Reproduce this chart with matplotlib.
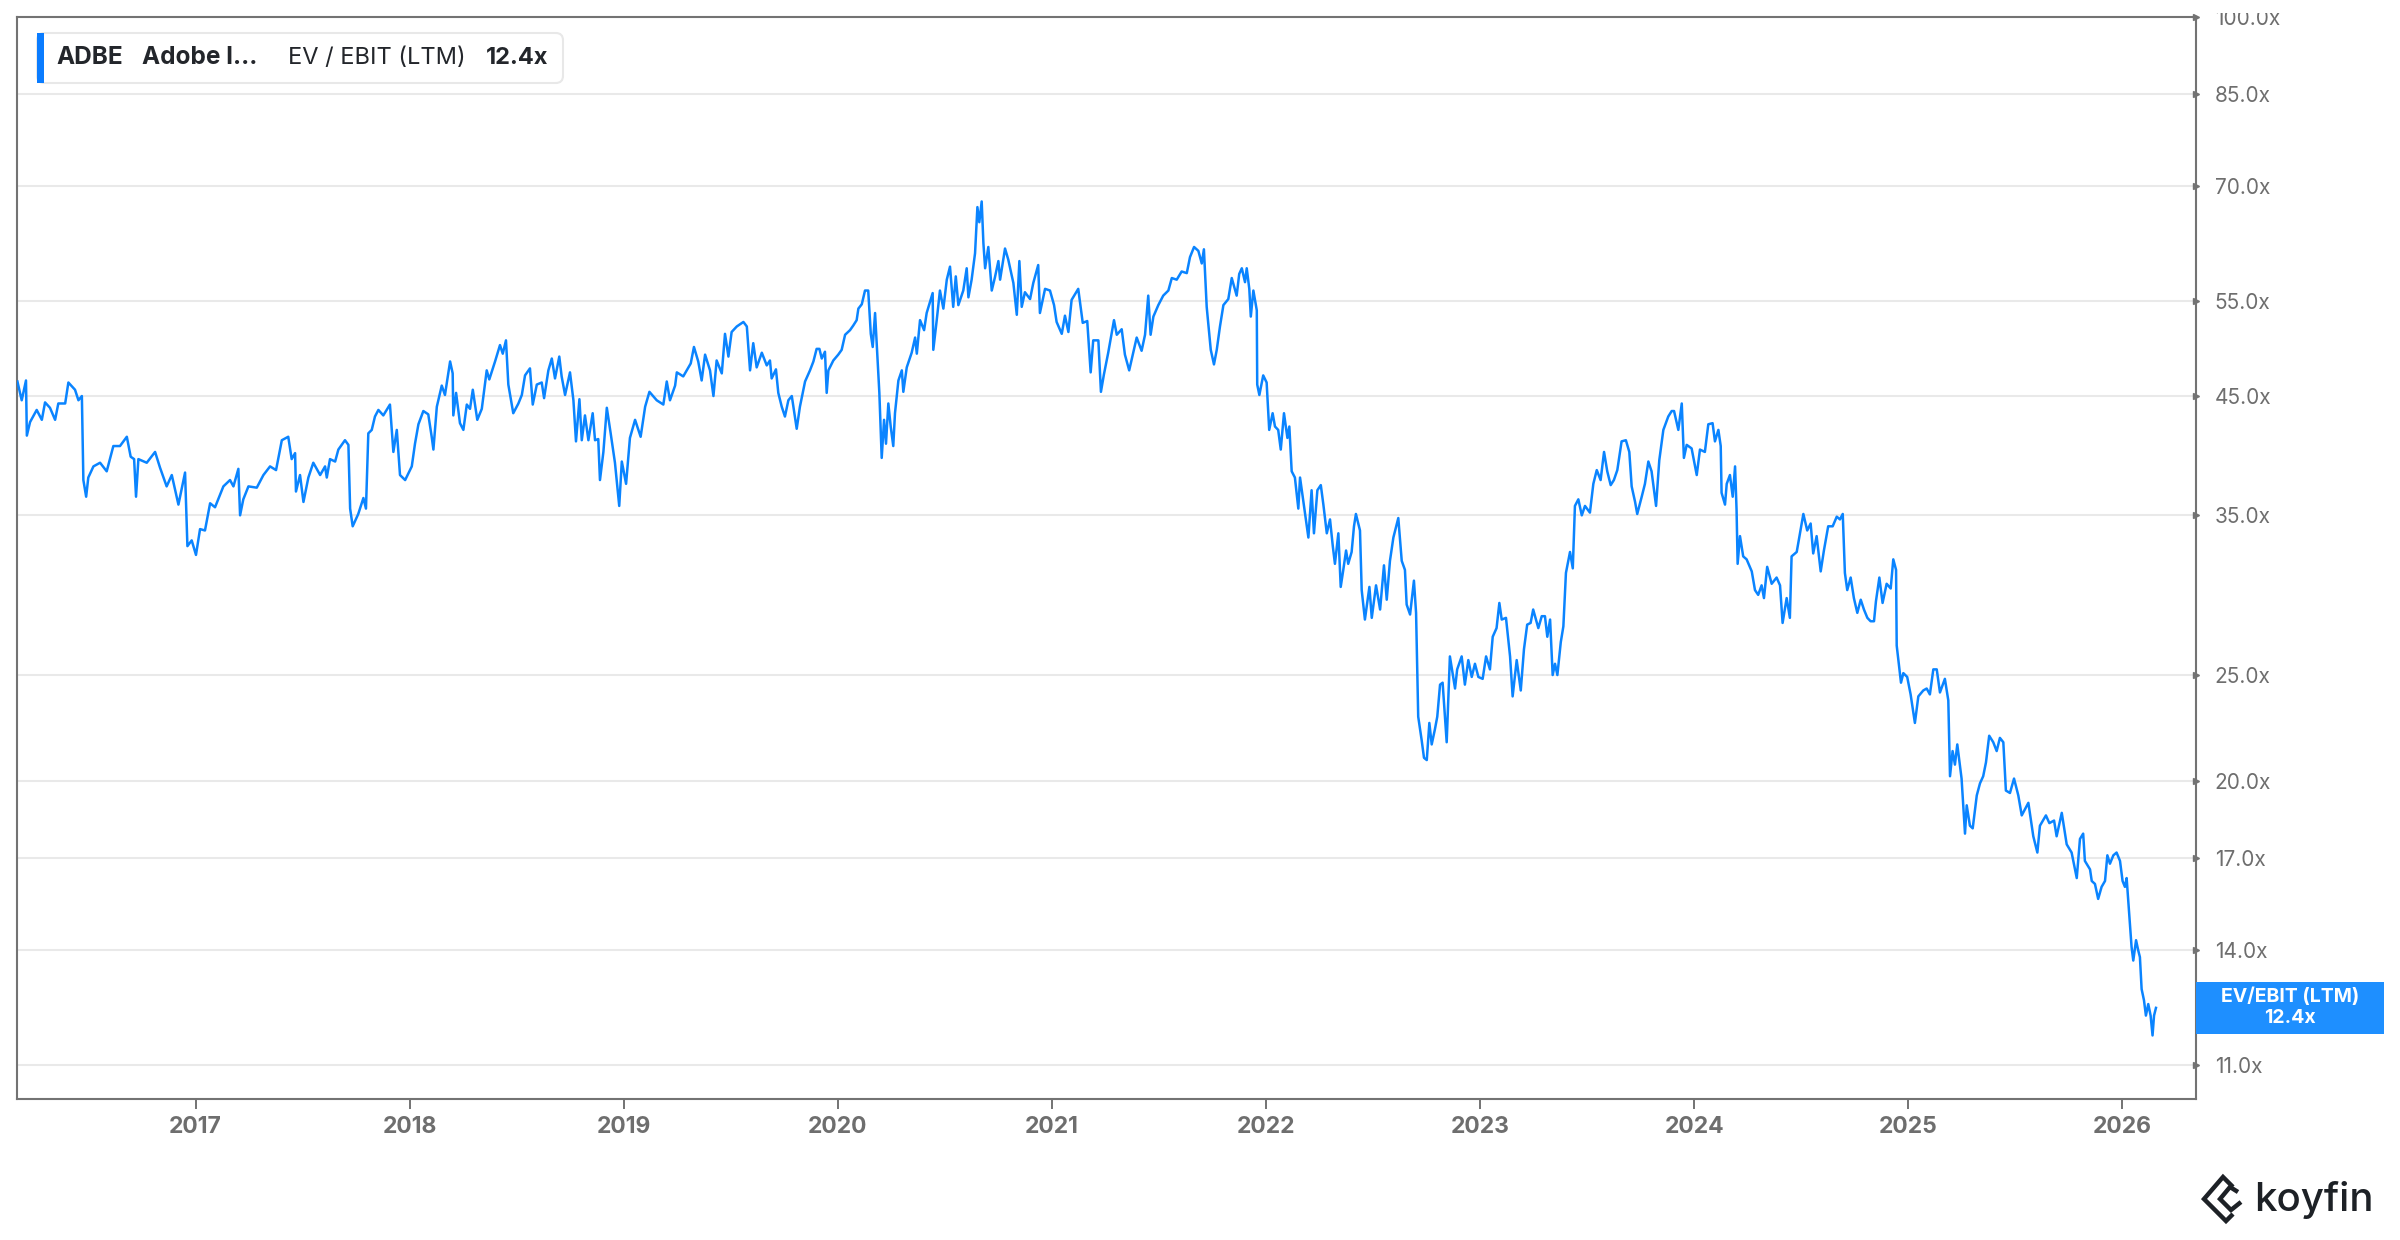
import matplotlib
matplotlib.use("Agg")
import matplotlib.pyplot as plt
from matplotlib.patches import FancyBboxPatch, Rectangle
from matplotlib.lines import Line2D
from matplotlib.ticker import FixedLocator, NullLocator
from matplotlib.transforms import Bbox, TransformedBbox

plt.rcParams['font.family'] = ['Inter', 'DejaVu Sans']

# ADBE EV / EBIT (LTM), time in decimal years
years = [
    2016.168, 2016.188, 2016.208, 2016.212, 2016.227, 2016.258, 2016.282, 2016.297, 2016.320, 2016.344,
    2016.359, 2016.391, 2016.406, 2016.437, 2016.453, 2016.469, 2016.476, 2016.489, 2016.499, 2016.523,
    2016.554, 2016.585, 2016.616, 2016.647, 2016.679, 2016.697, 2016.713, 2016.722, 2016.733, 2016.772,
    2016.811, 2016.834, 2016.865, 2016.889, 2016.920, 2016.951, 2016.962, 2016.982, 2017.002, 2017.021,
    2017.044, 2017.068, 2017.091, 2017.130, 2017.161, 2017.177, 2017.200, 2017.208, 2017.223, 2017.247,
    2017.286, 2017.317, 2017.348, 2017.376, 2017.403, 2017.433, 2017.449, 2017.465, 2017.469, 2017.488,
    2017.504, 2017.527, 2017.550, 2017.582, 2017.605, 2017.613, 2017.628, 2017.652, 2017.667, 2017.698,
    2017.714, 2017.722, 2017.734, 2017.760, 2017.784, 2017.796, 2017.807, 2017.823, 2017.838, 2017.854,
    2017.877, 2017.908, 2017.924, 2017.940, 2017.955, 2017.979, 2018.010, 2018.025, 2018.041, 2018.064,
    2018.087, 2018.103, 2018.111, 2018.127, 2018.150, 2018.165, 2018.189, 2018.201, 2018.204, 2018.217,
    2018.235, 2018.251, 2018.267, 2018.282, 2018.295, 2018.316, 2018.337, 2018.360, 2018.372, 2018.399,
    2018.422, 2018.435, 2018.450, 2018.461, 2018.484, 2018.508, 2018.524, 2018.539, 2018.562, 2018.575,
    2018.594, 2018.617, 2018.628, 2018.648, 2018.664, 2018.679, 2018.699, 2018.710, 2018.726, 2018.749,
    2018.765, 2018.777, 2018.793, 2018.804, 2018.819, 2018.835, 2018.855, 2018.866, 2018.881, 2018.889,
    2018.905, 2018.921, 2018.939, 2018.959, 2018.979, 2018.991, 2019.011, 2019.029, 2019.053, 2019.079,
    2019.100, 2019.120, 2019.154, 2019.185, 2019.201, 2019.216, 2019.240, 2019.248, 2019.278, 2019.313,
    2019.328, 2019.348, 2019.364, 2019.380, 2019.403, 2019.419, 2019.434, 2019.458, 2019.473, 2019.489,
    2019.504, 2019.528, 2019.559, 2019.575, 2019.590, 2019.605, 2019.621, 2019.645, 2019.668, 2019.683,
    2019.691, 2019.711, 2019.722, 2019.738, 2019.753, 2019.769, 2019.785, 2019.808, 2019.823, 2019.847,
    2019.870, 2019.886, 2019.901, 2019.914, 2019.925, 2019.940, 2019.948, 2019.956, 2019.979, 2020.002,
    2020.018, 2020.034, 2020.057, 2020.072, 2020.088, 2020.096, 2020.112, 2020.127, 2020.142, 2020.154,
    2020.163, 2020.174, 2020.184, 2020.194, 2020.205, 2020.216, 2020.225, 2020.236, 2020.247, 2020.259,
    2020.267, 2020.283, 2020.299, 2020.306, 2020.322, 2020.345, 2020.361, 2020.369, 2020.384, 2020.403,
    2020.415, 2020.443, 2020.446, 2020.462, 2020.477, 2020.493, 2020.509, 2020.524, 2020.539, 2020.551,
    2020.563, 2020.586, 2020.602, 2020.610, 2020.625, 2020.641, 2020.652, 2020.661, 2020.672, 2020.680,
    2020.688, 2020.703, 2020.719, 2020.734, 2020.750, 2020.758, 2020.781, 2020.796, 2020.820, 2020.836,
    2020.848, 2020.859, 2020.874, 2020.898, 2020.913, 2020.936, 2020.944, 2020.968, 2020.991, 2021.010,
    2021.022, 2021.046, 2021.061, 2021.077, 2021.092, 2021.123, 2021.144, 2021.165, 2021.181, 2021.193,
    2021.217, 2021.229, 2021.243, 2021.263, 2021.290, 2021.303, 2021.326, 2021.341, 2021.361, 2021.380,
    2021.396, 2021.419, 2021.435, 2021.450, 2021.461, 2021.474, 2021.497, 2021.520, 2021.544, 2021.560,
    2021.583, 2021.606, 2021.630, 2021.645, 2021.664, 2021.684, 2021.700, 2021.710, 2021.723, 2021.742,
    2021.757, 2021.770, 2021.785, 2021.801, 2021.824, 2021.840, 2021.863, 2021.875, 2021.887, 2021.902,
    2021.910, 2021.922, 2021.929, 2021.941, 2021.957, 2021.959, 2021.969, 2021.987, 2022.003, 2022.015,
    2022.031, 2022.042, 2022.057, 2022.069, 2022.084, 2022.100, 2022.109, 2022.120, 2022.135, 2022.151,
    2022.159, 2022.182, 2022.198, 2022.213, 2022.224, 2022.240, 2022.256, 2022.268, 2022.284, 2022.299,
    2022.312, 2022.322, 2022.338, 2022.349, 2022.361, 2022.374, 2022.384, 2022.400, 2022.411, 2022.420,
    2022.439, 2022.447, 2022.462, 2022.483, 2022.494, 2022.514, 2022.533, 2022.551, 2022.564, 2022.579,
    2022.595, 2022.618, 2022.634, 2022.649, 2022.657, 2022.673, 2022.691, 2022.701, 2022.711, 2022.727,
    2022.738, 2022.751, 2022.763, 2022.774, 2022.789, 2022.800, 2022.813, 2022.825, 2022.844, 2022.859,
    2022.883, 2022.893, 2022.914, 2022.929, 2022.945, 2022.961, 2022.976, 2022.992, 2023.012, 2023.028,
    2023.046, 2023.059, 2023.077, 2023.090, 2023.101, 2023.121, 2023.140, 2023.152, 2023.171, 2023.190,
    2023.205, 2023.220, 2023.236, 2023.248, 2023.272, 2023.288, 2023.303, 2023.314, 2023.327, 2023.339,
    2023.350, 2023.361, 2023.377, 2023.389, 2023.401, 2023.420, 2023.433, 2023.443, 2023.459, 2023.475,
    2023.490, 2023.513, 2023.529, 2023.545, 2023.563, 2023.579, 2023.594, 2023.610, 2023.625, 2023.641,
    2023.661, 2023.681, 2023.697, 2023.708, 2023.724, 2023.734, 2023.755, 2023.770, 2023.786, 2023.801,
    2023.822, 2023.837, 2023.856, 2023.879, 2023.895, 2023.906, 2023.926, 2023.942, 2023.952, 2023.965,
    2023.988, 2024.012, 2024.027, 2024.050, 2024.066, 2024.086, 2024.097, 2024.113, 2024.124, 2024.128,
    2024.144, 2024.152, 2024.167, 2024.180, 2024.191, 2024.198, 2024.203, 2024.214, 2024.229, 2024.245,
    2024.269, 2024.284, 2024.299, 2024.315, 2024.326, 2024.341, 2024.362, 2024.385, 2024.401, 2024.413,
    2024.432, 2024.447, 2024.455, 2024.479, 2024.494, 2024.510, 2024.528, 2024.544, 2024.556, 2024.572,
    2024.591, 2024.606, 2024.626, 2024.647, 2024.666, 2024.681, 2024.694, 2024.704, 2024.715, 2024.731,
    2024.746, 2024.762, 2024.778, 2024.793, 2024.809, 2024.824, 2024.840, 2024.849, 2024.865, 2024.880,
    2024.899, 2024.918, 2024.930, 2024.943, 2024.946, 2024.966, 2024.977, 2024.995, 2025.011, 2025.031,
    2025.047, 2025.070, 2025.086, 2025.101, 2025.117, 2025.133, 2025.148, 2025.171, 2025.187, 2025.195,
    2025.207, 2025.218, 2025.229, 2025.249, 2025.265, 2025.273, 2025.288, 2025.301, 2025.320, 2025.335,
    2025.350, 2025.363, 2025.378, 2025.397, 2025.413, 2025.428, 2025.444, 2025.456, 2025.475, 2025.494,
    2025.514, 2025.530, 2025.561, 2025.584, 2025.603, 2025.615, 2025.643, 2025.659, 2025.681, 2025.693,
    2025.717, 2025.740, 2025.763, 2025.787, 2025.802, 2025.817, 2025.825, 2025.849, 2025.857, 2025.872,
    2025.887, 2025.903, 2025.919, 2025.930, 2025.942, 2025.958, 2025.973, 2025.989, 2026.001, 2026.012,
    2026.020, 2026.028, 2026.036, 2026.043, 2026.051, 2026.064, 2026.074, 2026.082, 2026.090, 2026.101,
    2026.110, 2026.121, 2026.132, 2026.141, 2026.148, 2026.157,
]

ev_ebit = [
    46.4, 44.6, 46.5, 41.4, 42.6, 43.7, 42.8, 44.4, 43.9, 42.8,
    44.3, 44.3, 46.3, 45.6, 44.6, 45.0, 37.7, 36.4, 37.9, 38.8,
    39.1, 38.4, 40.5, 40.5, 41.3, 39.6, 39.4, 36.4, 39.4, 39.1,
    40.0, 38.7, 37.2, 38.1, 35.8, 38.3, 32.8, 33.2, 32.2, 34.0,
    33.9, 35.9, 35.6, 37.2, 37.7, 37.2, 38.6, 35.0, 36.2, 37.2,
    37.1, 38.1, 38.8, 38.5, 41.0, 41.3, 39.4, 39.9, 36.8, 38.1,
    36.0, 37.9, 39.1, 38.1, 38.8, 37.9, 39.4, 39.2, 40.2, 41.0,
    40.6, 35.5, 34.2, 35.1, 36.3, 35.5, 41.6, 41.9, 43.1, 43.7,
    43.2, 44.2, 40.0, 41.9, 38.1, 37.7, 38.8, 40.7, 42.4, 43.6,
    43.3, 41.3, 40.2, 44.0, 46.0, 45.1, 48.4, 47.2, 43.2, 45.3,
    42.5, 41.9, 44.2, 43.8, 45.6, 42.8, 43.8, 47.5, 46.6, 48.4,
    50.1, 49.2, 50.6, 46.1, 43.4, 44.3, 45.1, 47.0, 47.7, 44.2,
    46.1, 46.3, 44.8, 47.5, 48.7, 46.7, 48.9, 46.9, 45.1, 47.3,
    44.6, 40.9, 44.7, 41.0, 43.2, 41.0, 43.4, 41.0, 41.1, 37.7,
    40.0, 43.9, 41.6, 39.1, 35.7, 39.2, 37.4, 41.2, 42.8, 41.3,
    44.0, 45.4, 44.6, 44.2, 46.4, 44.6, 46.0, 47.3, 46.9, 48.2,
    49.9, 48.4, 46.5, 49.1, 47.5, 45.0, 48.5, 47.2, 51.3, 48.9,
    51.5, 52.1, 52.6, 52.1, 47.5, 50.3, 47.8, 49.3, 48.0, 48.5,
    46.7, 47.6, 45.3, 44.0, 43.1, 44.6, 45.0, 42.0, 44.0, 46.4,
    47.5, 48.4, 49.7, 49.7, 48.7, 49.4, 45.3, 47.5, 48.5, 49.1,
    49.6, 51.2, 51.7, 52.2, 52.8, 54.1, 54.6, 56.2, 56.2, 51.3,
    49.9, 53.6, 49.3, 45.3, 39.5, 42.8, 40.7, 44.3, 42.2, 40.5,
    43.4, 46.5, 47.5, 45.4, 47.8, 49.3, 50.9, 49.2, 52.8, 51.7,
    53.6, 55.9, 49.6, 52.8, 56.2, 54.1, 57.5, 59.1, 54.3, 57.9,
    54.5, 56.2, 58.9, 55.4, 57.5, 60.8, 67.0, 64.9, 67.8, 62.1,
    58.9, 61.6, 56.2, 57.8, 59.8, 57.5, 61.4, 60.0, 57.1, 53.4,
    59.8, 54.3, 56.0, 55.2, 57.1, 59.3, 53.6, 56.4, 56.2, 54.5,
    52.6, 51.3, 53.3, 51.5, 55.1, 56.4, 52.5, 52.7, 47.3, 50.6,
    50.6, 45.4, 47.1, 49.3, 52.8, 51.2, 51.8, 49.1, 47.5, 49.3,
    50.9, 49.5, 51.2, 55.6, 51.2, 53.2, 54.5, 55.6, 56.2, 57.7,
    57.5, 58.5, 58.3, 60.3, 61.6, 61.1, 59.5, 61.3, 54.3, 49.6,
    48.1, 49.6, 52.1, 54.5, 55.2, 57.7, 55.6, 58.2, 58.9, 57.2,
    58.9, 56.4, 53.2, 56.2, 53.9, 46.1, 45.1, 47.0, 46.3, 41.9,
    43.4, 42.2, 41.9, 40.2, 43.4, 41.2, 42.2, 38.4, 37.9, 35.5,
    37.9, 35.2, 33.4, 36.9, 33.7, 36.9, 37.3, 35.8, 33.7, 34.7,
    32.8, 31.6, 33.7, 30.1, 31.2, 32.5, 31.6, 32.4, 34.2, 35.1,
    33.9, 29.9, 28.1, 30.1, 28.2, 30.2, 28.7, 31.5, 29.3, 31.8,
    33.4, 34.8, 31.8, 31.2, 29.0, 28.4, 30.5, 28.5, 22.9, 21.8,
    21.0, 20.9, 22.6, 21.6, 22.3, 22.9, 24.5, 24.6, 21.7, 26.0,
    24.3, 25.3, 26.0, 24.5, 25.8, 24.9, 25.6, 24.9, 24.8, 26.0,
    25.3, 27.1, 27.6, 29.1, 28.1, 28.2, 26.0, 23.9, 25.8, 24.2,
    26.4, 27.8, 27.9, 28.7, 27.6, 28.3, 28.3, 27.1, 28.1, 25.0,
    25.6, 25.0, 26.8, 27.7, 31.0, 32.4, 31.3, 35.7, 36.2, 35.0,
    35.7, 35.2, 37.4, 38.5, 37.7, 40.0, 38.4, 37.3, 37.7, 38.5,
    40.9, 41.0, 40.0, 37.2, 36.0, 35.1, 36.4, 37.4, 39.2, 38.4,
    35.7, 39.3, 41.9, 43.1, 43.6, 43.6, 41.9, 44.3, 39.5, 40.6,
    40.3, 38.1, 40.2, 40.0, 42.4, 42.5, 40.9, 41.9, 40.5, 36.7,
    35.8, 37.4, 38.1, 36.4, 38.8, 35.4, 31.6, 33.5, 32.1, 31.9,
    31.1, 29.9, 29.6, 30.2, 29.4, 31.4, 30.3, 30.7, 30.2, 27.9,
    29.4, 28.2, 32.1, 32.4, 33.7, 35.1, 33.9, 34.4, 32.3, 33.5,
    31.1, 32.5, 34.2, 34.2, 34.9, 34.7, 35.1, 31.0, 29.9, 30.7,
    29.4, 28.5, 29.3, 28.7, 28.2, 28.0, 28.0, 29.2, 30.7, 29.1,
    30.3, 30.0, 31.9, 31.2, 26.6, 24.6, 25.1, 24.9, 24.0, 22.6,
    23.9, 24.2, 24.3, 24.0, 25.3, 25.3, 24.1, 24.8, 23.7, 20.2,
    21.3, 20.7, 21.6, 20.1, 17.9, 19.0, 18.2, 18.1, 19.4, 19.9,
    20.2, 20.8, 22.0, 21.7, 21.3, 21.9, 21.7, 19.6, 19.5, 20.1,
    19.4, 18.6, 19.1, 17.8, 17.2, 18.2, 18.6, 18.3, 18.4, 17.8,
    18.7, 17.5, 17.2, 16.3, 17.7, 17.9, 16.9, 16.6, 16.2, 16.1,
    15.6, 16.0, 16.2, 17.1, 16.8, 17.1, 17.2, 16.9, 16.2, 16.0,
    16.3, 15.5, 14.7, 14.1, 13.7, 14.3, 14.0, 13.8, 12.9, 12.6,
    12.2, 12.5, 12.2, 11.7, 12.2, 12.4,
]

ticker = "ADBE"
company = "Adobe I\u2026"
metric = "EV / EBIT (LTM)"
metric_short = "EV/EBIT (LTM)"
y_ticks = [11, 14, 17, 20, 25, 35, 45, 55, 70, 85, 100]
x_ticks = list(range(2017, 2027))

line_blue = "#0a84ff"
axis_gray = "#737373"
label_gray = "#6e6e6e"
dark = "#23262b"

W, H = 2400, 1240
fig = plt.figure(figsize=(W / 100, H / 100), dpi=100)
fig.patch.set_facecolor("white")


def fx(px):
    return px / W


def fy(py):
    return 1 - py / H


ax = fig.add_axes([fx(17), fy(1099), fx(2196 - 17), (1099 - 17) / H])
ax.plot(years, ev_ebit, color=line_blue, lw=1.8, solid_joinstyle="round", zorder=3)

ax.set_yscale("log")
ax.set_xlim(2016.166, 2026.344)
ax.set_ylim(10.234, 100)

ax.yaxis.set_major_locator(FixedLocator(y_ticks))
ax.yaxis.set_minor_locator(NullLocator())
ax.set_yticklabels([f"{t:.1f}x" for t in y_ticks])
ax.yaxis.tick_right()
ax.tick_params(axis="y", which="both", length=0, pad=13.5, labelsize=15, labelcolor=label_gray)

ax.set_xticks(x_ticks)
ax.set_xticklabels([str(t) for t in x_ticks], fontweight="bold")
ax.xaxis.set_minor_locator(NullLocator())
ax.tick_params(axis="x", length=7, width=1.4, color=axis_gray, pad=5, labelsize=16.5, labelcolor=label_gray)

ax.grid(axis="y", color="#e9e9e9", lw=1.5)
ax.grid(axis="x", visible=False)
ax.set_axisbelow(True)
for s in ax.spines.values():
    s.set_color(axis_gray)
    s.set_linewidth(1.5)

# little arrow heads on the right axis
ax.plot([1] * len(y_ticks), y_ticks, transform=ax.get_yaxis_transform(), ls="none",
        marker=">", ms=5, color=axis_gray, clip_on=False, zorder=4)

# top label is cut by the top of the screenshot
top_lbl = ax.get_yticklabels()[-1]
top_lbl.set_clip_on(True)
top_lbl.set_clip_box(TransformedBbox(Bbox([[0.9, 0], [1, fy(13)]]), fig.transFigure))

# header legend box
fig.patches.append(FancyBboxPatch((fx(37), fy(83)), fx(563 - 37), (83 - 33) / H,
                                  boxstyle="round,pad=0,rounding_size=0.003", mutation_aspect=W / H,
                                  transform=fig.transFigure, facecolor="white", edgecolor="#e8e8e8",
                                  lw=1.5, zorder=5))
fig.patches.append(Rectangle((fx(37), fy(82.5)), fx(7), 49.5 / H, transform=fig.transFigure,
                             facecolor="#0a7cff", edgecolor="none", zorder=6))
ty = fy(58)
fig.text(fx(56), ty, ticker, fontsize=17.5, fontweight="bold", color=dark, va="center", ha="left", zorder=7)
fig.text(fx(142), ty, company, fontsize=17.5, fontweight="bold", color=dark, va="center", ha="left", zorder=7)
fig.text(fx(288), ty, metric, fontsize=17, color=dark, va="center", ha="left", zorder=7)
fig.text(fx(486), ty, f"{ev_ebit[-1]:.1f}x", fontsize=17, fontweight="bold", color=dark,
         va="center", ha="left", zorder=7)

# last value box at right axis
last_y = ax.transData.transform((years[-1], ev_ebit[-1]))[1] / H
box_h = 52 / H
fig.patches.append(Rectangle((fx(2196), last_y - box_h / 2), fx(188), box_h, transform=fig.transFigure,
                             facecolor="#1e8fff", edgecolor="none", zorder=5))
fig.text(fx(2290), last_y + 11 / H, metric_short, fontsize=14, fontweight="bold", color="white",
         ha="center", va="center", zorder=6)
fig.text(fx(2290), last_y - 10 / H, f"{ev_ebit[-1]:.1f}x", fontsize=14, fontweight="bold", color="white",
         ha="center", va="center", zorder=6)

# koyfin logo
logo_kw = dict(transform=fig.transFigure, color="#1d2126", lw=3.2, solid_joinstyle="miter",
               solid_capstyle="butt")
fig.add_artist(Line2D([fx(2233), fx(2223), fx(2204), fx(2226), fx(2233)],
                      [fy(1187), fy(1177), fy(1199), fy(1221), fy(1214)], **logo_kw))
fig.add_artist(Line2D([fx(2238), fx(2230), fx(2220), fx(2231), fx(2241)],
                      [fy(1192), fy(1187), fy(1199), fy(1210), fy(1202)], **logo_kw))
fig.text(fx(2254), fy(1211), "koyfin", fontsize=29, fontweight="medium", color="#1d2126",
         ha="left", va="baseline")

fig.savefig("out.png", dpi=100, facecolor="white")
